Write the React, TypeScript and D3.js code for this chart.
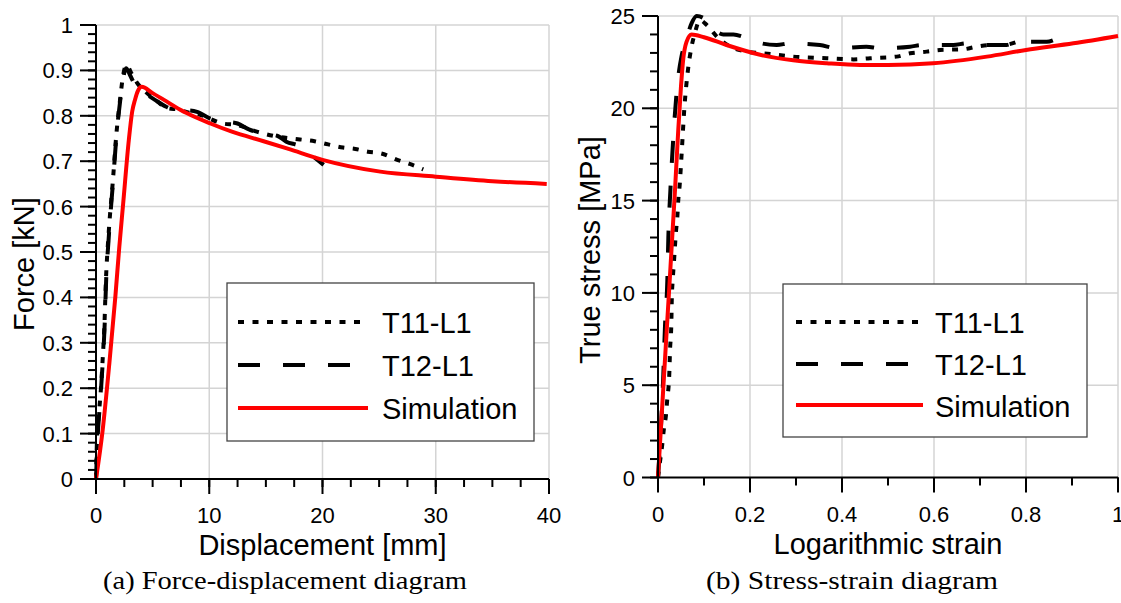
import * as d3 from "d3";

// (a) force-displacement: [displacement mm, force kN]
const fdT11: [number, number][] = [
  [0, 0], [0.08, 0.08], [0.28, 0.15], [0.44, 0.2], [0.58, 0.26], [0.73, 0.33], [0.88, 0.44],
  [1.1, 0.535], [1.5, 0.66], [1.8, 0.76], [2.1, 0.83], [2.4, 0.89], [2.7, 0.912], [3.1, 0.895],
  [3.7, 0.87], [4.5, 0.85], [5.4, 0.832], [6.2, 0.818], [7.4, 0.813], [7.9, 0.809], [9.2, 0.802],
  [11.2, 0.783], [12.4, 0.78], [14.2, 0.765], [16, 0.754], [18, 0.748], [19.3, 0.744],
  [20.5, 0.737], [21.8, 0.73], [22.9, 0.727], [24, 0.721], [25.2, 0.717], [26.6, 0.703],
  [27.7, 0.694], [28.9, 0.682],
];
const fdT12: [number, number][] = [
  [0, 0], [0.12, 0.08], [0.3, 0.15], [0.45, 0.2], [0.6, 0.26], [0.75, 0.33], [0.9, 0.44],
  [1.12, 0.53], [1.52, 0.66], [1.82, 0.76], [2.12, 0.83], [2.42, 0.885], [2.65, 0.905],
  [3.0, 0.89], [3.5, 0.865], [4.3, 0.85], [5.2, 0.835], [6.2, 0.82], [7.3, 0.81], [8.2, 0.812],
  [9, 0.808], [10, 0.795], [11.5, 0.787], [12.5, 0.783], [13.5, 0.77], [15, 0.76],
  [16, 0.756], [16.8, 0.743], [18, 0.733], [19, 0.714], [20.1, 0.692],
];
const fdSim: [number, number][] = [
  [0, 0], [0.59, 0.108], [1.18, 0.255], [1.71, 0.402], [2.06, 0.512], [2.4, 0.607], [2.9, 0.747],
  [3.2, 0.81], [3.44, 0.835], [3.7, 0.855], [4.03, 0.864], [5, 0.85], [6, 0.835], [7.4, 0.814],
  [8, 0.806], [10.1, 0.783], [12, 0.765], [14.8, 0.744], [17, 0.727], [20, 0.703], [25.1, 0.677],
  [30, 0.666], [35, 0.656], [39.8, 0.65],
];

// (b) stress-strain: [log strain, true stress MPa]
const ssT11: [number, number][] = [
  [0, 0], [0.004, 0.8], [0.0087, 1.67], [0.013, 2.67], [0.0174, 3.4], [0.02, 4.2], [0.0246, 5.64],
  [0.026, 6.8], [0.029, 8.35], [0.03, 9.7], [0.032, 10.7], [0.035, 11.8], [0.039, 13.3],
  [0.042, 14.1], [0.044, 15.0], [0.047, 15.8], [0.051, 17.38], [0.057, 19.9], [0.066, 22.25],
  [0.073, 23.34], [0.08, 24.06], [0.091, 24.78], [0.106, 24.51], [0.128, 23.88], [0.157, 23.34],
  [0.193, 23.07], [0.229, 22.98], [0.294, 22.8], [0.367, 22.71], [0.425, 22.65], [0.461, 22.71],
  [0.519, 22.8], [0.548, 22.98], [0.584, 23.07], [0.613, 23.16], [0.664, 23.2], [0.693, 23.34],
  [0.722, 23.43], [0.75, 23.43], [0.78, 23.6],
];
const ssT12: [number, number][] = [
  [0, 0], [0.006, 2.5], [0.0116, 5.6], [0.0152, 8.2], [0.0203, 10.7], [0.0225, 13], [0.027, 15.6],
  [0.033, 18.3], [0.041, 21], [0.051, 22.8], [0.059, 23.5], [0.073, 24.6], [0.084, 25],
  [0.098, 24.9], [0.113, 24.5], [0.142, 24.0], [0.164, 24.0], [0.182, 23.9], [0.2, 23.7],
  [0.258, 23.43], [0.287, 23.52], [0.352, 23.43], [0.388, 23.25], [0.453, 23.34], [0.483, 23.25],
  [0.548, 23.34], [0.577, 23.43], [0.642, 23.43], [0.671, 23.52], [0.693, 23.43], [0.758, 23.43],
  [0.78, 23.6], [0.845, 23.6], [0.86, 23.7],
];
const ssSim: [number, number][] = [
  [0, 0], [0.019, 8], [0.037, 15.6], [0.044, 18.8], [0.05, 21.2], [0.055, 22.7], [0.062, 23.6],
  [0.073, 24.0], [0.1, 23.85], [0.149, 23.43], [0.222, 22.9], [0.294, 22.6], [0.367, 22.44],
  [0.439, 22.35], [0.5, 22.35], [0.598, 22.44], [0.715, 22.8], [0.8, 23.16], [0.903, 23.52],
  [1.0, 23.92],
];

const seriesNames = ["T11-L1", "T12-L1", "Simulation"];
const fdXTicks = [0, 10, 20, 30, 40];
const fdYTicks = [0, 0.1, 0.2, 0.3, 0.4, 0.5, 0.6, 0.7, 0.8, 0.9, 1];
const ssXTicks = [0, 0.2, 0.4, 0.6, 0.8, 1];
const ssYTicks = [0, 5, 10, 15, 20, 25];

const SANS = "'Liberation Sans', Arial, sans-serif";
const SERIF = "'Liberation Serif', 'Times New Roman', serif";

const styles = [
  { stroke: "#000", dash: "6 8.5", width: 4 },
  { stroke: "#000", dash: "22 23", width: 4 },
  { stroke: "#ff0000", dash: undefined, width: 4 },
];

type PanelProps = {
  x0: number; x1: number; y0: number; y1: number;
  xDomain: [number, number]; yDomain: [number, number];
  xTicks: number[]; yTicks: number[]; xMinor: number; yMinor: number;
  series: [number, number][][];
  xLabel: string; yLabel: string; yLabelX: number; yLabelY: number;
  caption: string; captionX: number; captionW: number;
  legend: { x: number; y: number; w: number; h: number; lineY: number[]; textY: number[]; lineX0: number; lineX1: number; textX: number };
};

const fmt = (v: number) => String(+v.toFixed(2));

function Panel(p: PanelProps) {
  const x = d3.scaleLinear().domain(p.xDomain).range([p.x0, p.x1]);
  const y = d3.scaleLinear().domain(p.yDomain).range([p.y0, p.y1]);
  const line = d3.line<[number, number]>().x(d => x(d[0])).y(d => y(d[1])).curve(d3.curveMonotoneX);
  const xMinor = d3.range(p.xDomain[0], p.xDomain[1] + 1e-9, p.xMinor);
  const yMinor = d3.range(p.yDomain[0], p.yDomain[1] + 1e-9, p.yMinor);
  const grid = "#d4d4d4";
  return (
    <g>
      {p.xTicks.filter(t => t !== p.xDomain[0]).map(t => (
        <line key={"gx" + t} x1={x(t)} x2={x(t)} y1={p.y0} y2={p.y1} stroke={grid} strokeWidth={1.5} />
      ))}
      {p.yTicks.filter(t => t !== p.yDomain[0]).map(t => (
        <line key={"gy" + t} x1={p.x0} x2={p.x1} y1={y(t)} y2={y(t)} stroke={grid} strokeWidth={1.5} />
      ))}
      {/* legend */}
      <rect x={p.legend.x} y={p.legend.y} width={p.legend.w} height={p.legend.h} fill="#fff" stroke="#444" strokeWidth={1.3} />
      {p.series.map((s, i) => (
        <path key={"s" + i} d={line(s) || ""} fill="none" stroke={styles[i].stroke}
          strokeWidth={styles[i].width} strokeDasharray={styles[i].dash} strokeLinejoin="round" />
      ))}
      {seriesNames.map((n, i) => (
        <g key={"l" + i}>
          <line x1={p.legend.lineX0} x2={p.legend.lineX1} y1={p.legend.lineY[i]} y2={p.legend.lineY[i]}
            stroke={styles[i].stroke} strokeWidth={styles[i].width} strokeDasharray={styles[i].dash} />
          <text x={p.legend.textX} y={p.legend.textY[i]} fontFamily={SANS} fontSize={29} fill="#000">{n}</text>
        </g>
      ))}
      {/* axes */}
      <line x1={p.x0} x2={p.x1} y1={p.y0} y2={p.y0} stroke="#000" strokeWidth={2} />
      <line x1={p.x0} x2={p.x0} y1={p.y0} y2={p.y1} stroke="#000" strokeWidth={2} />
      {xMinor.map(t => (
        <line key={"mx" + t} x1={x(t)} x2={x(t)} y1={p.y0} y2={p.y0 + 8} stroke="#000" strokeWidth={2} />
      ))}
      {yMinor.map(t => (
        <line key={"my" + t} x1={p.x0 - 8} x2={p.x0} y1={y(t)} y2={y(t)} stroke="#000" strokeWidth={2} />
      ))}
      {p.xTicks.map(t => (
        <g key={"tx" + t}>
          <line x1={x(t)} x2={x(t)} y1={p.y0} y2={p.y0 + 15} stroke="#000" strokeWidth={2} />
          <text x={x(t)} y={p.y0 + 44} textAnchor="middle" fontFamily={SANS} fontSize={22}>{fmt(t)}</text>
        </g>
      ))}
      {p.yTicks.map(t => (
        <g key={"ty" + t}>
          <line x1={p.x0 - 16} x2={p.x0} y1={y(t)} y2={y(t)} stroke="#000" strokeWidth={2} />
          <text x={p.x0 - 23} y={y(t) + 8} textAnchor="end" fontFamily={SANS} fontSize={22}>{fmt(t)}</text>
        </g>
      ))}
      <text x={(p.x0 + p.x1) / 2} y={p.y0 + 76} textAnchor="middle" fontFamily={SANS} fontSize={29}>{p.xLabel}</text>
      <text transform={`translate(${p.yLabelX},${p.yLabelY}) rotate(-90)`} textAnchor="middle" fontFamily={SANS} fontSize={29}>{p.yLabel}</text>
      <text x={p.captionX} y={589} textAnchor="middle" fontFamily={SERIF} fontSize={25}
        textLength={p.captionW} lengthAdjust="spacingAndGlyphs">{p.caption}</text>
    </g>
  );
}

export default function App() {
  return (
    <svg width={1121} height={603} style={{ position: "absolute", left: 0, top: 0, background: "#fff" }}>
      <Panel
        x0={96} x1={549} y0={479} y1={25}
        xDomain={[0, 40]} yDomain={[0, 1]}
        xTicks={fdXTicks} yTicks={fdYTicks} xMinor={2.5} yMinor={0.02}
        series={[fdT11, fdT12, fdSim]}
        xLabel="Displacement [mm]" yLabel="Force [kN]" yLabelX={34} yLabelY={264}
        caption="(a) Force-displacement diagram" captionX={285} captionW={364}
        legend={{ x: 227, y: 283, w: 307, h: 158, lineY: [322, 365, 408], textY: [333, 376, 419], lineX0: 238, lineX1: 368, textX: 382 }}
      />
      <Panel
        x0={658} x1={1118} y0={477.5} y1={16}
        xDomain={[0, 1]} yDomain={[0, 25]}
        xTicks={ssXTicks} yTicks={ssYTicks} xMinor={0.1} yMinor={1}
        series={[ssT11, ssT12, ssSim]}
        xLabel="Logarithmic strain" yLabel="True stress [MPa]" yLabelX={600} yLabelY={250}
        caption="(b) Stress-strain diagram" captionX={852} captionW={292}
        legend={{ x: 783, y: 284, w: 304, h: 153, lineY: [322, 364, 405], textY: [333, 375, 417], lineX0: 796, lineX1: 923, textX: 935 }}
      />
    </svg>
  );
}
